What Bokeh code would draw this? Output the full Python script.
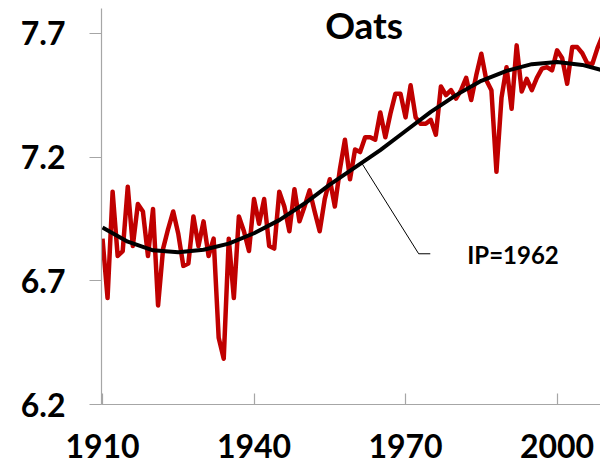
from bokeh.plotting import figure
from bokeh.models import FixedTicker, Range1d, Label
from bokeh.embed import file_html
from bokeh.resources import INLINE

# ---- data ----
years = list(range(1910, 2010))
log_yield = [
    6.87, 6.63, 7.06, 6.80, 6.82, 7.08, 6.84, 7.01, 6.98, 6.80,   # 1910s
    6.99, 6.60, 6.83, 6.91, 6.98, 6.89, 6.76, 6.77, 6.96, 6.84,   # 1920s
    6.94, 6.80, 6.87, 6.47, 6.385, 6.87, 6.63, 6.96, 6.90, 6.82,  # 1930s
    7.03, 6.93, 7.03, 6.84, 6.83, 7.06, 7.00, 6.90, 7.07, 6.94,   # 1940s
    7.00, 7.065, 6.98, 6.90, 7.03, 7.11, 7.00, 7.15, 7.27, 7.11,  # 1950s
    7.23, 7.22, 7.28, 7.28, 7.27, 7.38, 7.28, 7.375, 7.456, 7.456,  # 1960s
    7.36, 7.49, 7.36, 7.334, 7.334, 7.35, 7.29, 7.485, 7.45, 7.47,  # 1970s
    7.436, 7.47, 7.52, 7.43, 7.53, 7.617, 7.51, 7.47, 7.14, 7.44,   # 1980s
    7.563, 7.395, 7.651, 7.465, 7.516, 7.47, 7.52, 7.557, 7.563, 7.55,  # 1990s
    7.631, 7.60, 7.496, 7.644, 7.644, 7.619, 7.578, 7.577, 7.64, 7.69,  # 2000s
]

trend_years = [1910, 1915, 1920, 1925, 1930, 1935, 1940, 1945, 1950, 1955, 1960,
               1965, 1970, 1975, 1980, 1985, 1990, 1995, 2000, 2005, 2009]
trend_vals = [6.915, 6.858, 6.823, 6.815, 6.825, 6.850, 6.892, 6.945, 7.012, 7.088, 7.158,
              7.228, 7.305, 7.382, 7.450, 7.508, 7.548, 7.575, 7.584, 7.572, 7.550]

x_ticks = [1910, 1940, 1970, 2000]
y_ticks = [6.2, 6.7, 7.2, 7.7]
title_text = "Oats"
ip_text = "IP=1962"

FONT = "Lato"

p = figure(width=600, height=469, output_backend="svg", toolbar_location=None,
           x_range=Range1d(1909.8, 2008.6), y_range=Range1d(6.2, 7.80),
           min_border_left=101, min_border_right=0, min_border_top=8,
           min_border_bottom=65)
p.outline_line_color = None
p.xgrid.visible = False
p.ygrid.visible = False
p.background_fill_color = "white"
p.border_fill_color = "white"

p.line(years, log_yield, line_color="#C00000", line_width=4.5, line_join="round")
p.line(trend_years, trend_vals, line_color="black", line_width=4, line_join="round")

# leader line for inflection point label
p.line([1961.4, 1972.6, 1974.9], [7.173, 6.809, 6.809], line_color="black", line_width=1)

p.add_layout(Label(x=1982.2, y=6.808, text=ip_text, text_font=FONT, text_font_style="bold",
                   text_font_size="24px", text_color="black", text_baseline="alphabetic"))
p.add_layout(Label(x=1961.8, y=7.735, text=title_text, text_font=FONT, text_font_style="bold",
                   text_font_size="37px", text_color="black", text_align="center",
                   text_baseline="alphabetic"))

for ax in (p.xaxis[0], p.yaxis[0]):
    ax.axis_line_color = "#A6A6A6"
    ax.axis_line_width = 1.2
    ax.major_tick_line_color = "#A6A6A6"
    ax.major_tick_line_width = 1.2
    ax.minor_tick_line_color = None
    ax.major_label_text_font = FONT
    ax.major_label_text_font_style = "bold"
    ax.major_label_text_font_size = "32px"
    ax.major_label_text_color = "black"

p.xaxis.ticker = FixedTicker(ticks=x_ticks)
p.yaxis.ticker = FixedTicker(ticks=y_ticks)
p.xaxis.major_tick_in = 11
p.xaxis.major_tick_out = 0
p.xaxis.major_label_standoff = 29
p.yaxis.major_tick_in = 0
p.yaxis.major_tick_out = 12
p.yaxis.major_label_standoff = 24

open("out.html", "w").write(file_html(p, INLINE))
